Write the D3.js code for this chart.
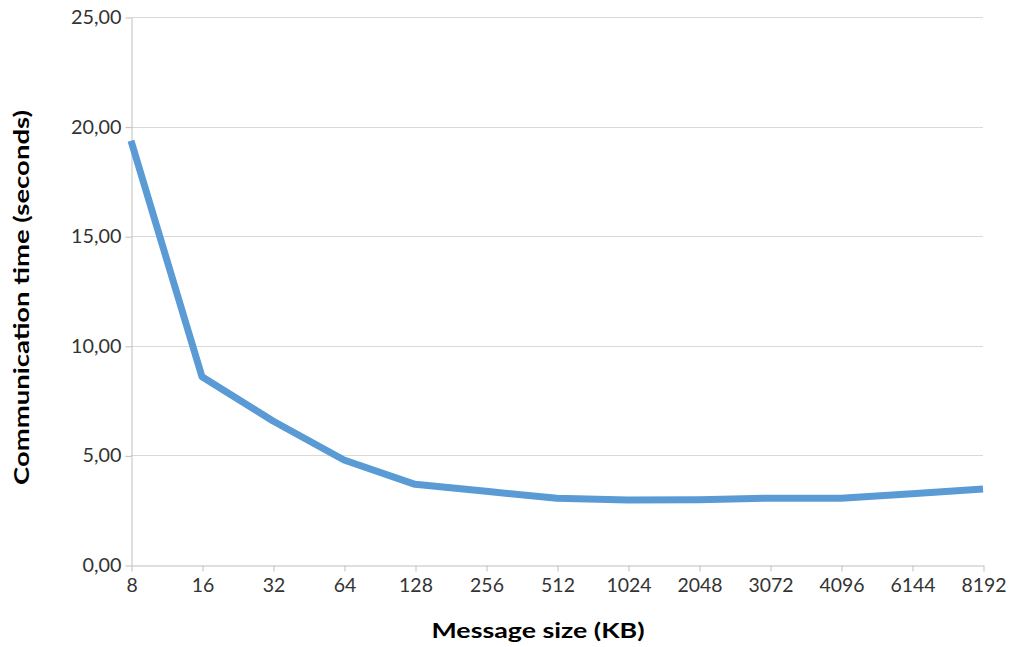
<!DOCTYPE html>
<html><head><meta charset="utf-8">
<script src="https://cdn.jsdelivr.net/npm/d3@7"></script>
<style>
html,body{margin:0;padding:0;background:#fff;}
svg{display:block;font-family:Lato,"Open Sans",sans-serif;}
</style></head>
<body><svg id="chart" width="1009" height="647"></svg>
<script>
const categories = ["8","16","32","64","128","256","512","1024","2048","3072","4096","6144","8192"];
const times = [19.35, 8.59, 6.57, 4.79, 3.68, 3.36, 3.05, 2.96, 2.98, 3.05, 3.05, 3.25, 3.47];
const yTicks = [0, 5, 10, 15, 20, 25];
const xTitle = "Message size (KB)";
const yTitle = "Communication time (seconds)";

(function () {
const svg = d3.select("#chart");
const mLeft = 131, mRight = 983, mTop = 17, mBottom = 565;

const x = d3.scalePoint().domain(categories).range([mLeft, mRight]).padding(0);
const y = d3.scaleLinear().domain([0, 25]).range([mBottom, mTop]);

function widen(sel, f) {
  sel.each(function () {
    const w = this.getComputedTextLength();
    d3.select(this).attr("textLength", w * f).attr("lengthAdjust", "spacingAndGlyphs");
  });
}

// gridlines
svg.append("g").selectAll("line").data(yTicks.filter(d => d > 0)).join("line")
  .attr("x1", mLeft).attr("x2", mRight)
  .attr("y1", d => Math.round(y(d)) + 0.5).attr("y2", d => Math.round(y(d)) + 0.5)
  .attr("stroke", "#d9d9d9").attr("stroke-width", 1);

const fmt = d => d3.format(".2f")(d).replace(".", ",");

// y axis
const yAxis = svg.append("g").attr("transform", `translate(${mLeft + 0.5},0.5)`)
  .call(d3.axisLeft(y).tickValues(yTicks).tickFormat(fmt).tickSize(6).tickSizeOuter(0).tickPadding(4));
yAxis.select(".domain").attr("stroke", "#bfbfbf");
yAxis.selectAll(".tick line").attr("stroke", "#bfbfbf");
yAxis.selectAll(".tick text").attr("font-size", 18.5).attr("fill", "#333")
  .attr("font-family", "Lato, sans-serif");
widen(yAxis.selectAll(".tick text"), 1.07);

// x axis
const xAxis = svg.append("g").attr("transform", `translate(0.5,${mBottom + 0.5})`)
  .call(d3.axisBottom(x).tickSize(6).tickSizeOuter(0).tickPadding(7));
xAxis.select(".domain").attr("stroke", "#bfbfbf");
xAxis.selectAll(".tick line").attr("stroke", "#bfbfbf");
xAxis.selectAll(".tick text").attr("font-size", 18.5).attr("fill", "#333")
  .attr("font-family", "Lato, sans-serif");
widen(xAxis.selectAll(".tick text"), 1.05);

// line
const line = d3.line().x((d, i) => x(categories[i])).y(d => y(d));
svg.append("path").datum(times)
  .attr("d", line).attr("fill", "none")
  .attr("stroke", "#5b9bd5").attr("stroke-width", 7)
  .attr("stroke-linejoin", "round").attr("stroke-linecap", "butt");

// titles
svg.append("text").attr("x", 538).attr("y", 638)
  .attr("text-anchor", "middle").attr("font-size", 21).attr("font-weight", "bold")
  .attr("fill", "#000").attr("textLength", 213).attr("lengthAdjust", "spacingAndGlyphs")
  .text(xTitle);
svg.append("text").attr("transform", "translate(29,297.5) rotate(-90)")
  .attr("text-anchor", "middle").attr("font-size", 21).attr("font-weight", "bold")
  .attr("fill", "#000").attr("textLength", 375).attr("lengthAdjust", "spacingAndGlyphs")
  .text(yTitle);
})();
</script></body></html>
